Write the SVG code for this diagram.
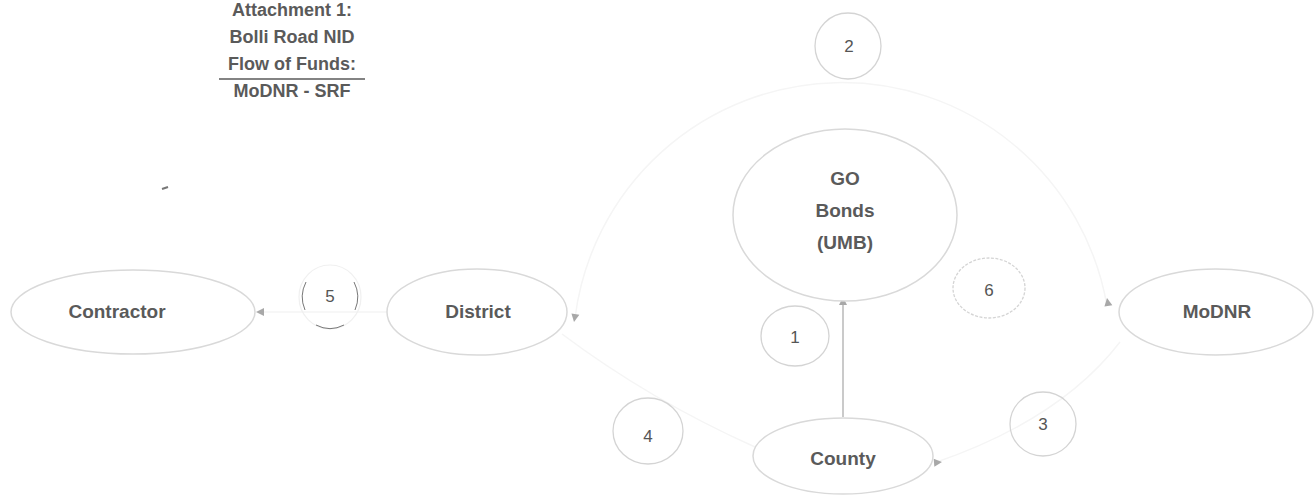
<svg xmlns="http://www.w3.org/2000/svg" width="1315" height="495" viewBox="0 0 1315 495">
<style>
.bg{fill:#ffffff}
.node{fill:#ffffff;stroke:#d9d9d9;stroke-width:1.5}
.lbl{font-family:"Liberation Sans",Arial,sans-serif;font-weight:bold;font-size:19px;fill:#5a5a5a;text-anchor:middle}
.num{fill:none;stroke:#d4d4d4;stroke-width:1.3}
.numt{font-family:"Liberation Sans",Arial,sans-serif;font-size:17px;fill:#555555;text-anchor:middle}
.faint{fill:none;stroke:#f5f5f5;stroke-width:1.5}
.conn{fill:none;stroke:#b8b8b8;stroke-width:1.5}
.head{fill:#a8a8a8}
.title{font-family:"Liberation Sans",Arial,sans-serif;font-weight:bold;font-size:18px;fill:#5a5a5a;text-anchor:middle}
</style>
<defs>
<path id="tri" d="M0,0 L-8,-4 L-8,4 z"/>
</defs>
<rect class="bg" x="0" y="0" width="1315" height="495"/>

<g id="title">
<text class="title" x="292" y="16">Attachment 1:</text>
<text class="title" x="292" y="43">Bolli Road NID</text>
<text class="title" x="292" y="70">Flow of Funds:</text>
<line x1="219" y1="79" x2="365" y2="79" stroke="#5a5a5a" stroke-width="1.5"/>
<text class="title" x="292" y="97">MoDNR - SRF</text>
</g>

<g id="connectors">
<line class="faint" x1="387" y1="312" x2="258" y2="312"/>
<use href="#tri" class="head" transform="translate(256,312) rotate(180)"/>
<path class="faint" d="M1107,306 A269,269 0 0 0 575,318"/>
<use href="#tri" class="head" transform="translate(574,322) rotate(100)"/>
<use href="#tri" class="head" transform="translate(1107,298) rotate(-100)"/>
<path class="faint" d="M562,334 Q650,400 755,447"/>
<line class="conn" x1="843" y1="417" x2="843" y2="305"/>
<use href="#tri" class="head" transform="translate(843,297) rotate(-90)"/>
<path class="faint" d="M934,463 Q1060,420 1120,342"/>
<use href="#tri" class="head" transform="translate(942,462) rotate(-5)"/>
</g>

<g id="goBonds">
<ellipse class="node" cx="845" cy="215" rx="112" ry="86"/>
<text class="lbl" x="845" y="185">GO</text>
<text class="lbl" x="845" y="217">Bonds</text>
<text class="lbl" x="845" y="249">(UMB)</text>
</g>
<g id="contractor">
<ellipse class="node" cx="133" cy="312" rx="122" ry="42"/>
<text class="lbl" x="117" y="318">Contractor</text>
</g>
<g id="district">
<ellipse class="node" cx="477" cy="312" rx="90" ry="43"/>
<text class="lbl" x="478" y="318">District</text>
</g>
<g id="modnr">
<ellipse class="node" cx="1216" cy="312" rx="97" ry="43"/>
<text class="lbl" x="1217" y="318">MoDNR</text>
</g>
<g id="county">
<ellipse class="node" cx="843" cy="456" rx="90" ry="38"/>
<text class="lbl" x="843" y="465">County</text>
</g>

<g id="n1"><ellipse class="num" cx="795" cy="336" rx="34" ry="30"/><text class="numt" x="795" y="343">1</text></g>
<g id="n2"><ellipse class="num" cx="848" cy="46" rx="33" ry="33"/><text class="numt" x="849" y="52">2</text></g>
<g id="n3"><ellipse class="num" cx="1043" cy="424" rx="33" ry="32"/><text class="numt" x="1043" y="430">3</text></g>
<g id="n4"><ellipse class="num" cx="648" cy="431" rx="35" ry="33"/><text class="numt" x="648" y="442">4</text></g>
<g id="n5"><ellipse cx="330" cy="297" rx="31" ry="32" fill="none" stroke="#f0f0f0" stroke-width="1.2"/>
<path d="M306,282 A31,32 0 0 0 305,310 M354,282 A31,32 0 0 1 355,310 M316,325 A31,32 0 0 0 344,325" fill="none" stroke="#777" stroke-width="1"/>
<text class="numt" x="330" y="302">5</text></g>
<g id="n6"><ellipse class="num" cx="989" cy="288" rx="36" ry="30" stroke-dasharray="3,1.5" stroke="#aaa"/><text class="numt" x="989" y="296" fill="#888">6</text></g>

<line x1="162" y1="189" x2="168" y2="187" stroke="#777" stroke-width="2"/>
</svg>
